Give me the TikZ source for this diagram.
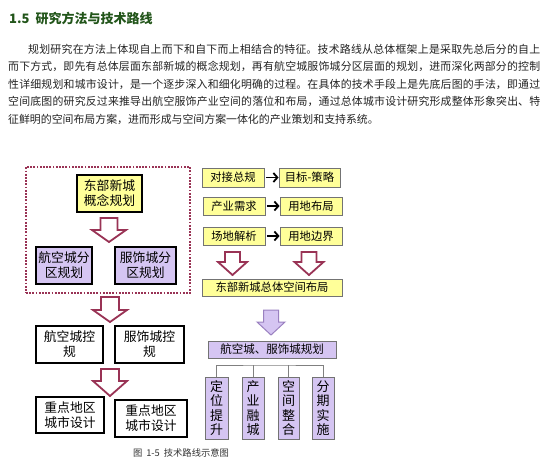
\documentclass[tikz,border=0pt]{standalone}
\usepackage{fontspec}
\setmainfont{Noto Sans CJK SC}
\XeTeXlinebreaklocale "zh"
\XeTeXlinebreakskip=0pt plus 1pt
\usetikzlibrary{arrows.meta}
\definecolor{myyellow}{HTML}{FFFF99}
\definecolor{mypurple}{HTML}{D5C5F2}
\definecolor{mymaroon}{HTML}{993355}
\definecolor{arrowpurple}{HTML}{9A80C0}
\definecolor{titlegreen}{HTML}{22551A}
\definecolor{bodytext}{HTML}{222222}
\newcommand\hollowarrow[7]{% cx, ytop, shaft half, head half, shaft end, tip, style
  \draw[#7] (#1-#3,#2) -- (#1+#3,#2) -- (#1+#3,#5) -- (#1+#4,#5) -- (#1,#6)
    -- (#1-#4,#5) -- (#1-#3,#5) -- cycle;}
\tikzset{
  lbox/.style={draw=black, line width=1.6pt, inner sep=0pt, align=center,
    font=\fontsize{12.8}{15}\selectfont},
  rbox/.style={draw=black!55, line width=0.8pt, inner sep=0pt, align=center,
    fill=myyellow, font=\fontsize{11.3}{13}\selectfont},
  vbox/.style={draw=black!55, line width=0.8pt, inner sep=0pt, align=center,
    fill=mypurple, minimum width=22, minimum height=62,
    font=\fontsize{13}{14.5}\selectfont},
  redarrow/.style={draw=mymaroon, line width=1.8pt, fill=white, line join=miter},
  purplearrow/.style={draw=arrowpurple, line width=1pt, fill=mypurple},
  blackarrow/.style={line width=1.8pt, -{Straight Barb[length=4pt,width=9pt]}},
  treeline/.style={draw=black!50, line width=0.8pt}
}
\begin{document}
\begin{tikzpicture}[x=1pt,y=-1pt]
\useasboundingbox (0,0) rectangle (547,464);
% title
\node[anchor=west, inner sep=0, text=titlegreen, font=\fontsize{13}{14}\selectfont\bfseries] (title) at (9,19) {1.5\hspace{6pt}研究方法与技术路线};
% paragraph
\node[anchor=north west, inner sep=0, text=bodytext] (para) at (8,44)
 {\begin{minipage}{532pt}\fontsize{10.9}{17.5}\selectfont\parindent=20pt\tolerance=9999%
 规划研究在方法上体现自上而下和自下而上相结合的特征。技术路线从总体框架上是采取先总后分的自上\linebreak%
 而下方式，即先有总体层面东部新城的概念规划，再有航空城服饰城分区层面的规划，进而深化两部分的控制\linebreak%
 性详细规划和城市设计，是一个逐步深入和细化明确的过程。在具体的技术手段上是先底后图的手法，即通过\linebreak%
 空间底图的研究反过来推导出航空服饰产业空间的落位和布局，通过总体城市设计研究形成整体形象突出、特\linebreak%
 征鲜明的空间布局方案，进而形成与空间方案一体化的产业策划和支持系统。%
 \end{minipage}};
% ---------- left column ----------
\node[draw=mymaroon, line width=1.8pt, dash pattern=on 1.8pt off 1.4pt,
  minimum width=164, minimum height=126, inner sep=0] (frame) at (108,230) {};
\node[lbox, fill=myyellow, minimum width=65, minimum height=37] (gn) at (109.5,193.5) {东部新城\\概念规划};
\hollowarrow{109}{218}{8.5}{17}{230}{242}{redarrow}
\node[lbox, fill=mypurple, minimum width=56, minimum height=37] (a1) at (64,265.5) {航空城分\\区规划};
\node[lbox, fill=mypurple, minimum width=61, minimum height=37] (a2) at (145.5,265.5) {服饰城分\\区规划};
\hollowarrow{110}{297}{9}{17}{310}{322}{redarrow}
\node[lbox, fill=white, minimum width=67, minimum height=37] (c1) at (69.5,344.5) {航空城控\\规};
\node[lbox, fill=white, minimum width=69, minimum height=37] (c2) at (149.5,344.5) {服饰城控\\规};
\hollowarrow{110}{369}{9}{17}{381}{396}{redarrow}
\node[lbox, fill=white, minimum width=68, minimum height=36] (z1) at (70,415) {重点地区\\城市设计};
\node[lbox, fill=white, minimum width=72, minimum height=37] (z2) at (151,418.5) {重点地区\\城市设计};
\node[inner sep=0, text=black!80, font=\fontsize{9.3}{10}\selectfont] (cap) at (181,453) {图\hspace{4pt}1-5\hspace{4pt}技术路线示意图};
% ---------- right column ----------
\node[rbox, minimum width=62, minimum height=19] (r1) at (233,177.5) {对接总规};
\node[rbox, minimum width=61, minimum height=19] (r1b) at (309.5,177.5) {目标-策略};
\node[rbox, minimum width=62, minimum height=18] (r2) at (234,206) {产业需求};
\node[rbox, minimum width=62, minimum height=18] (r2b) at (311,206) {用地布局};
\node[rbox, minimum width=62, minimum height=18] (r3) at (234,236) {场地解析};
\node[rbox, minimum width=62, minimum height=18] (r3b) at (311,236) {用地边界};
\draw[blackarrow] ([xshift=1.5pt]r1.east) -- (r1b.west);
\draw[blackarrow] ([xshift=1.5pt]r2.east) -- (r2b.west);
\draw[blackarrow] ([xshift=1.5pt]r3.east) -- (r3b.west);
\hollowarrow{232.5}{252}{7.5}{14.5}{262}{275}{redarrow}
\hollowarrow{309}{252}{7.5}{14.5}{262}{275}{redarrow}
\node[rbox, minimum width=140, minimum height=17] (layout) at (272,287.5) {东部新城总体空间布局};
\hollowarrow{271}{310}{7.5}{14}{322}{335}{purplearrow}
\node[rbox, fill=mypurple, minimum width=128, minimum height=17, font=\fontsize{11.5}{13}\selectfont] (plan) at (272,349.5) {航空城、服饰城规划};
\node[vbox, minimum width=23] (v1) at (216.5,408) {定\\位\\提\\升};
\node[vbox] (v2) at (253,408) {产\\业\\融\\城};
\node[vbox, minimum width=21] (v3) at (288.5,408) {空\\间\\整\\合};
\node[vbox] (v4) at (323,408) {分\\期\\实\\施};
\coordinate (hub) at (269,365);
\draw[treeline] (plan.south -| hub) -- ([yshift=6pt]hub);
\draw[treeline] (v1.north) |- (hub) -| (v4.north);
\draw[treeline] (v2.north) -- (v2.north |- hub);
\draw[treeline] (v3.north) -- (v3.north |- hub);
\end{tikzpicture}
\end{document}
